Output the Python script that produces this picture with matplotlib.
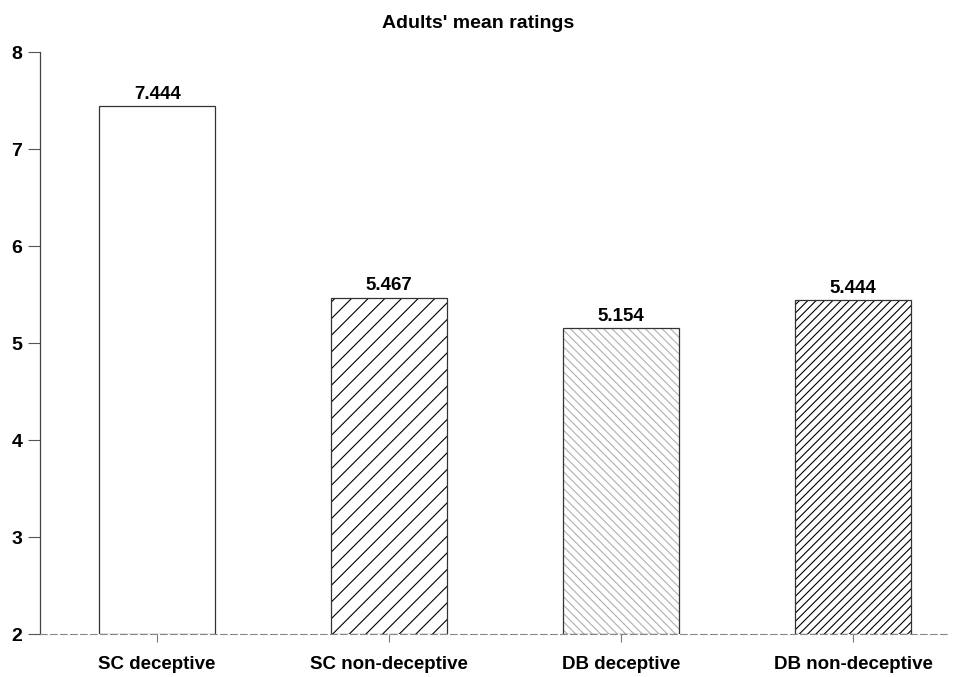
import matplotlib.pyplot as plt
import numpy as np

plt.rcParams['font.family'] = ['Liberation Sans', 'DejaVu Sans']
plt.rcParams['hatch.linewidth'] = 0.8

# data
categories = ['SC deceptive', 'SC non-deceptive', 'DB deceptive', 'DB non-deceptive']
ratings = [7.444, 5.467, 5.154, 5.444]
hatches = ['', '//', '\\\\\\\\', '////']
hatch_colors = ['black', 'black', '#b0b0b0', 'black']

fig = plt.figure(figsize=(9.57, 6.77), dpi=100)
ax = fig.add_axes([0.042, 0.0635, 0.951, 0.8595])

x = np.arange(len(categories))
for i, (val, h, hc) in enumerate(zip(ratings, hatches, hatch_colors)):
    ax.bar(x[i], val - 2, bottom=2, width=0.5, facecolor='white',
           edgecolor=hc, hatch=h, linewidth=0)
    # outline drawn separately so the hatch colour can differ
    ax.bar(x[i], val - 2, bottom=2, width=0.5, facecolor='none',
           edgecolor='#333333', linewidth=0.9)
    ax.text(x[i], val + 0.035, f'{val:.3f}', ha='center', va='bottom',
            fontsize=13.5, fontweight='bold')

ax.set_xlim(-0.504, 3.418)
ax.set_ylim(2, 8)
ax.set_yticks(range(2, 9))
ax.set_xticks(x)
ax.set_xticklabels(categories)

for s in ['top', 'right']:
    ax.spines[s].set_visible(False)
ax.spines['left'].set_linewidth(0.9)
ax.spines['left'].set_color('#444444')
ax.spines['bottom'].set_linestyle((0, (6, 3)))
ax.spines['bottom'].set_color('#888888')
ax.spines['bottom'].set_linewidth(0.8)

ax.tick_params(axis='y', length=9, width=0.8, colors='#555555', labelcolor='black',
               labelsize=14, pad=4)
ax.tick_params(axis='x', length=6, width=0.8, colors='#777777', labelcolor='black',
               labelsize=13.5, pad=10)
for lab in ax.get_yticklabels() + ax.get_xticklabels():
    lab.set_fontweight('bold')

fig.text(0.5, 0.965, "Adults' mean ratings", ha='center', va='center',
         fontsize=14, fontweight='bold')

fig.savefig('out.png', dpi=100)
